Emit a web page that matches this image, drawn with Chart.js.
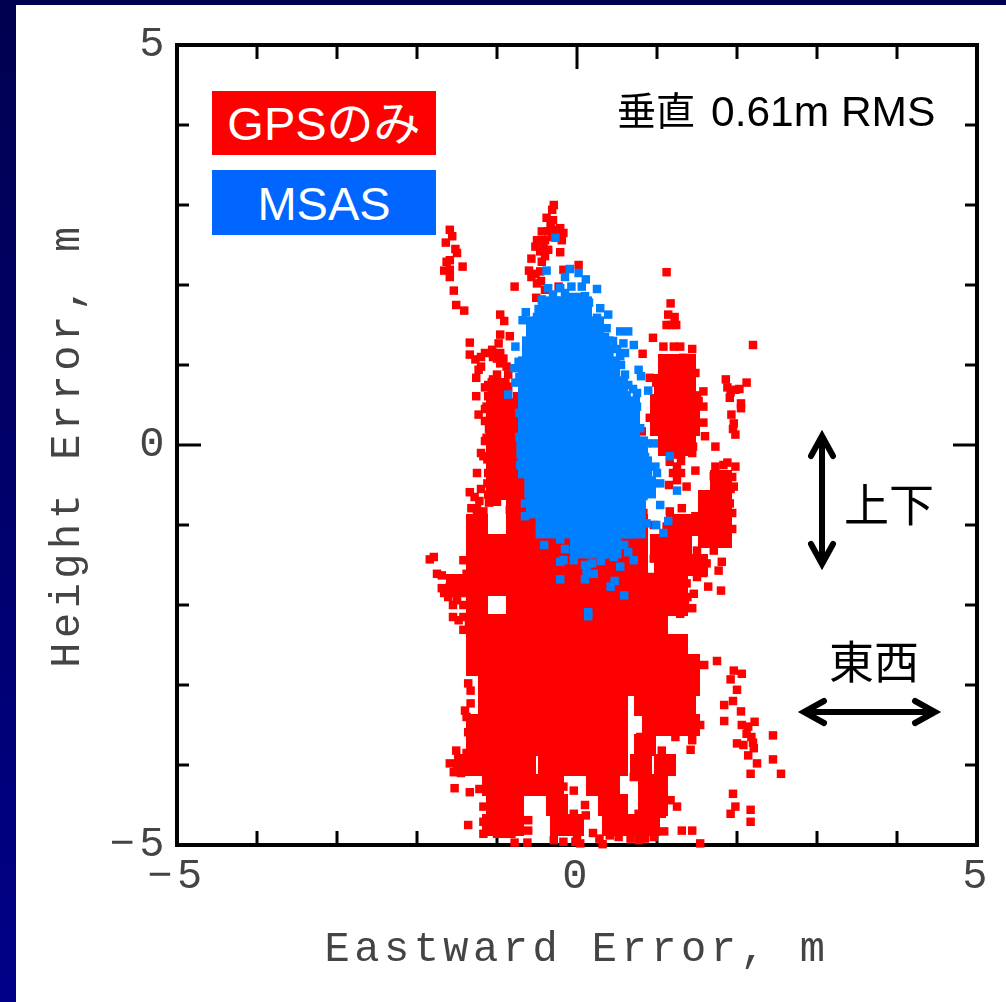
<!DOCTYPE html>
<html>
<head>
<meta charset="utf-8">
<title>GPS / MSAS</title>
<script src="https://cdn.jsdelivr.net/npm/chart.js@4"></script>
<style>
  html, body { margin: 0; padding: 0; width: 1006px; height: 1002px; overflow: hidden; }
  body { background: linear-gradient(#000050, #000088); position: relative; }
  #panel { position: absolute; left: 16px; top: 5px; width: 990px; height: 997px; background: #fff; }
  canvas { position: absolute; left: 0; top: 0; }
  .note { position: absolute; white-space: nowrap; color: #000; font-family: "Liberation Sans", "Noto Sans CJK JP", sans-serif; }
  .key { position: absolute; left: 212px; width: 224px; color: #fff; text-align: center; font-family: "Liberation Sans", "Noto Sans CJK JP", sans-serif; font-size: 47px; }
  svg { position: absolute; left: 0; top: 0; }
</style>
</head>
<body>
<div id="panel"></div>
<canvas id="scatterChart" width="1006" height="1002"></canvas>
<div class="key" style="top:91px;height:64px;line-height:66px;background:#ff0000">GPSのみ</div>
<div class="key" style="top:170px;height:65px;line-height:68px;background:#0066ff">MSAS</div>
<div class="note" style="left:617px;top:88px;font-size:39px;line-height:48px">垂直</div>
<div class="note" style="left:711px;top:88px;font-size:42.5px;line-height:48px">0.61m RMS</div>
<div class="note" style="left:844px;top:482px;font-size:45px;line-height:50px">上下</div>
<div class="note" style="left:829px;top:639px;font-size:45px;line-height:50px">東西</div>
<svg width="1006" height="1002" fill="none" stroke="#000" stroke-width="6" stroke-linecap="round" stroke-linejoin="miter">
  <path d="M822 436V564M811 456L822 436L833 456M811 544L822 564L833 544"/>
  <path d="M804 712H935M824 701L804 712L824 723M915 701L935 712L915 723"/>
</svg>
<script>
const xTickLabels = [-5, 0, 5]
const yTickLabels = [-5, 0, 5]
const xTitle = 'Eastward Error, m'
const yTitle = 'Height Error, m'

// solid part of the GPS cloud, one row per height: [y, [x, x, ...]]
const gpsCore = [
  [-1.0, [-1.25, -0.75, -0.5, -0.25, 0, 0.25, 0.5, 0.75, 1.25, 1.4]],
  [-1.25, [-1.25, -1, -0.75, -0.5, -0.25, 0, 0.25, 0.5, 0.75, 1.05, 1.3]],
  [-1.5, [-1.25, -1, -0.75, -0.5, -0.25, 0, 0.25, 0.5, 0.75, 1.1, 1.25, 1.5]],
  [-1.75, [-1.5, -1.25, -1, -0.75, -0.5, -0.25, 0, 0.25, 0.5, 0.75, 1, 1.25]],
  [-2, [-1.25, -0.75, -0.5, -0.25, 0, 0.25, 0.5, 0.75, 1, 1.25]],
  [-2.25, [-1.25, -1, -0.75, -0.5, -0.25, 0, 0.25, 0.5, 0.75, 1]],
  [-2.5, [-1.25, -1, -0.75, -0.5, -0.25, 0, 0.25, 0.5, 0.75, 1, 1.25]],
  [-2.75, [-1.25, -1, -0.75, -0.5, -0.25, 0, 0.25, 0.5, 0.75, 1, 1.25, 1.4]],
  [-3, [-1.1, -0.95, -0.75, -0.5, -0.25, 0, 0.25, 0.5, 0.75, 1, 1.25, 1.4]],
  [-3.25, [-1.1, -0.95, -0.75, -0.5, -0.25, 0, 0.25, 0.5, 0.85, 1.1, 1.35]],
  [-3.5, [-1.25, -1, -0.75, -0.5, -0.25, 0, 0.25, 0.5, 0.95, 1.2, 1.4]],
  [-3.75, [-1.25, -1, -0.75, -0.5, -0.25, 0, 0.25, 0.5, 0.85]],
  [-4, [-1.4, -1.15, -0.9, -0.65, -0.35, -0.15, 0.05, 0.25, 0.5, 0.8, 1.1]],
  [-4.25, [-1.05, -0.8, -0.55, -0.3, 0.25, 0.4, 0.9, 1.0]],
  [-4.5, [-1, -0.8, -0.25, 0.4, 0.5, 0.9, 1.0]],
  [-4.75, [-1.05, -0.8, -0.2, -0.05, 0.45, 0.7, 0.9]],
  [0.7, [-0.98]],
  [0.45, [-1, -0.75]],
  [0.2, [-1, -0.75]],
  [-0.05, [-1, -0.75]],
  [-0.3, [-1, -0.75]],
  [-0.55, [-1, -0.75]],
  [-0.8, [-0.75]],
  [1.0, [1.15, 1.35]],
  [0.75, [1.1, 1.35]],
  [0.5, [1.05, 1.25, 1.4]],
  [0.25, [1.05, 1.25, 1.4]],
  [0, [1.15, 1.35]],
  [-0.45, [1.8]],
  [-0.7, [1.65, 1.8]],
  [-0.95, [1.65, 1.8]],
  [-1.15, [1.65, 1.8]]
]

// single GPS fixes around the edges: [x, y]
const gpsScatter = [
  [-1.59, 2.69], [-1.56, 2.61], [-1.64, 2.53], [-1.52, 2.45], [-1.5, 2.4], [-1.59, 2.31], [-1.63, 2.29], [-1.66, 2.18], [-1.59, 2.19], [-1.59, 2.1],
  [-1.43, 2.23], [-1.54, 1.93], [-1.51, 1.75], [-1.41, 1.68],
  [-0.29, 3.0], [-0.31, 2.94], [-0.38, 2.84], [-0.3, 2.81], [-0.21, 2.71], [-0.17, 2.65], [-0.44, 2.67], [-0.36, 2.67], [-0.27, 2.69], [-0.5, 2.56],
  [-0.4, 2.56], [-0.19, 2.56], [-0.36, 2.44], [-0.46, 2.42], [-0.21, 2.41], [-0.57, 2.33], [-0.44, 2.29], [-0.6, 2.18], [-0.46, 2.17], [-0.57, 2.1],
  [-0.5, 2.02], [-0.78, 1.98], [-0.51, 1.84], [-0.4, 1.94], [-0.17, 2.19], [0.02, 2.25], [-0.23, 1.98], [-0.33, 2.75], [-0.24, 2.6], [-0.31, 2.6],
  [-0.42, 2.48], [-0.52, 2.48], [-0.4, 2.36], [-0.52, 2.14], [-0.45, 2.05],
  [-0.96, 1.63], [-0.91, 1.55], [-1.34, 1.28], [-0.96, 1.38], [-0.84, 1.36], [-0.98, 1.27], [-1.06, 1.19], [-1.34, 1.13], [-1.15, 1.15], [-0.96, 1.15],
  [-1.27, 1.07], [-0.96, 1.02], [-0.88, 0.98], [-1.23, 0.94], [-1.26, 0.84], [-1, 0.88], [-0.86, 0.88], [-1.11, 0.75], [-1.26, 0.61], [-0.96, 0.73],
  [-0.86, 0.73], [-0.75, 0.61], [-1.11, 0.61], [-1.23, 0.38], [-1.13, 0.48], [-0.8, 0.52], [-0.8, 0.36], [-1.13, 0.09], [-1.17, -0.14], [-1.07, -0.04],
  [-0.8, 0.19], [-0.71, -0.1], [-1.25, -0.35], [-1.11, -0.35], [-0.96, -0.31], [-1.34, -0.59], [-1.11, -0.62], [-1.32, -0.79], [-1.17, -0.83], [-1.25, -0.94],
  [-1, -0.56], [-0.75, -0.56], [-0.84, -0.81], [-0.73, -0.94], [-1, -0.71], [-0.63, -0.73], [-0.52, -0.98],
  [-1.05, 0.55], [-1.15, 0.45], [-1.1, 0.3], [-1.15, 0.3], [-1.1, 0.2], [-1.15, 0.05], [-1.2, -0.1], [-1.12, -0.18], [-1.08, -0.12], [-1.12, -0.48],
  [-1.2, -0.55], [-1.28, -0.65], [-1.1, -0.72], [-1.22, -0.7], [-1.25, -0.8], [-1.25, -0.87], [-1.18, -0.92], [-1.05, -0.3], [-1.05, 1.1], [-1.0, 1.08],
  [-0.92, 1.08], [-1.2, 0.98], [-1.05, 0.82], [-1.15, 0.72], [-1.2, 1.1],
  [1.12, 2.16], [1.17, 1.77], [1.14, 1.63], [1.18, 1.5], [0.95, 1.34], [0.82, 1.14], [2.2, 1.25], [1.08, 1.23], [1.21, 1.23], [1.29, 1.23],
  [1.44, 1.2], [1.33, 1.09], [1.16, 1.02], [1.42, 1.02], [1.08, 0.9], [0.91, 0.84], [0.99, 0.78], [1.58, 0.67], [1.48, 0.9], [1.08, 0.69],
  [1.58, 0.48], [1.02, 0.52], [0.91, 0.34], [1.58, 0.28], [1.02, 0.36], [0.81, 0.17], [1.6, 0.11], [1.73, -0.02], [1.45, 0.27], [1.45, -0.02],
  [1.12, -0.06], [1.44, -0.1], [1.16, -0.21], [1.25, -0.27], [1.25, -0.44], [1.37, -0.52], [1.48, -0.32], [1.31, -0.79], [1.16, -0.83], [1.48, -0.89],
  [1.21, -0.92], [0.83, -0.85], [0.75, -0.81], [0.81, -0.94], [0.96, -1], [1.12, -1.02], [1.22, 1.6], [1.24, 1.5], [1.12, 1.5], [1.5, 0.62], [1.52, 0.55],
  [1.3, -0.12], [1.2, -0.12], [1.3, -0.2], [1.3, -0.35], [1.2, -0.35], [1.15, -0.5],
  [1.86, 0.82], [2.12, 0.78], [1.98, 0.69], [1.91, 0.59], [2.05, 0.52], [2.05, 0.46], [1.93, 0.38], [1.96, 0.27], [1.98, 0.13], [1.98, -0.27],
  [1.83, -0.25], [1.73, -0.27], [1.71, -0.39], [1.96, -0.52], [1.63, -0.71], [1.91, -0.73], [2.03, 0.7], [1.92, 0.66], [1.88, 0.72], [1.95, 0.2],
  [1.88, -0.22], [1.94, -0.4], [1.92, -0.55], [1.94, -0.85], [1.94, -1.05],
  [-1.79, -1.4], [-1.84, -1.43], [-1.75, -1.61], [-1.69, -1.63], [-1.69, -1.79], [-1.59, -1.77], [-1.5, -1.73], [-1.61, -1.9], [-1.5, -1.94], [-1.42, -1.44],
  [-1.38, -1.61], [-1.55, -2.15], [-1.48, -2.19], [-1.42, -2.31], [-1.36, -2.98], [-1.33, -3.07], [-1.33, -3.23], [-1.4, -3.32], [-1.38, -3.4], [-1.36, -3.59],
  [-1.51, -3.82], [-1.54, -4.09], [-1.53, -4.29], [-1.34, -4.34], [-1.36, -4.75], [-1.17, -4.52], [-1.17, -4.71], [-1.17, -4.86], [-0.78, -4.97], [-0.62, -4.97],
  [-0.61, -4.69], [-0.61, -4.82], [-0.29, -4.94], [-0.17, -4.96], [-0.02, -4.96], [0.04, -4.98], [-0.25, -4.69], [-0.04, -4.61], [-0.04, -4.77], [0, -4.9],
  [0.1, -4.5], [0.11, -4.63], [0.32, -4.99], [0.41, -4.88], [0.67, -4.92], [0.77, -4.94], [0.96, -4.9], [1.09, -4.83], [1.31, -4.82], [1.44, -4.82],
  [1.54, -4.98], [1.25, -4.52], [1.17, -4.44], [1.06, -4.61], [1.06, -4.44], [0.94, -4.61], [0.77, -4.61], [1.04, -4.15], [1.06, -3.94], [1.06, -3.82],
  [0.71, -4.15], [1.44, -3.69], [1.42, -3.81], [1.23, -3.65], [0.79, -3.65], [0.79, -3.79], [0.54, -3.69], [0.92, -3.5], [1.35, -3.54], [1.54, -3.5],
  [-0.04, -4.32], [-0.17, -4.27], [-1.42, -1.85], [-1.55, -1.85], [-1.66, -1.85], [-1.55, -2.0], [-1.42, -2.0], [-1.42, -2.15], [-1.35, -2.25], [-1.42, -1.7],
  [-1.45, -4.1], [-1.38, -3.85], [-1.3, -3.9], [-1.5, -4.02], [-1.22, -4.3], [-1.12, -4.3], [-1.44, -3.98], [-1.0, -4.86], [-0.9, -4.86], [-0.82, -4.86],
  [-1.59, -3.98], [0.2, -4.85], [0.28, -4.92], [0.52, -4.9], [0.85, -4.92],
  [1.59, -2.75], [1.75, -2.7], [1.96, -2.82], [2.06, -2.86], [1.92, -2.93], [2, -3.06], [1.95, -3.2], [1.84, -3.25], [2.05, -3.33], [1.84, -3.45],
  [2.22, -3.46], [2.06, -3.5], [2.14, -3.52], [2.12, -3.61], [2.45, -3.63], [2, -3.73], [2.08, -3.75], [2.21, -3.79], [2.14, -3.88], [2.25, -3.98],
  [2.45, -3.93], [2.17, -4.11], [2.55, -4.11], [1.95, -4.36], [1.98, -4.52], [1.92, -4.61], [2.17, -4.56], [2.17, -4.71], [2.18, -3.65], [2.2, -3.72],
  [1.8, -1.82], [1.64, -1.77], [1.44, -2.04], [1.29, -2.11], [1.46, -1.86], [1.37, -1.73], [1.77, -1.57], [1.81, -1.46], [1.71, -1.32], [1.5, -1.65],
  [1.62, -1.48], [1.83, -1.23], [1.5, -1.32], [1.37, -1.19], [1.58, -1.07], [1.79, -1.04], [1.21, -1.32], [1.04, -1.27], [0.96, -1.42], [1.04, -1.42],
  [1.29, -1.52], [0.96, -1.73], [1.12, -1.65], [0.79, -1.19], [1.29, -1.15], [0.91, -1.65], [1.42, -1.55], [1.58, -1.6], [1.45, -1.45], [1.38, -1.9], [1.35, -2.0]
]

// solid part of the MSAS cloud
const msasCore = [
  [1.72, [-0.35, -0.2, -0.05, 0.05]],
  [1.47, [-0.5, -0.25, 0, 0.2]],
  [1.22, [-0.55, -0.3, -0.05, 0.2, 0.32]],
  [0.97, [-0.6, -0.35, -0.1, 0.15, 0.4]],
  [0.72, [-0.6, -0.35, -0.1, 0.15, 0.4, 0.5]],
  [0.47, [-0.6, -0.35, -0.1, 0.15, 0.4, 0.65]],
  [0.22, [-0.6, -0.35, -0.1, 0.15, 0.4, 0.65]],
  [-0.03, [-0.62, -0.35, -0.1, 0.15, 0.4, 0.65, 0.75]],
  [-0.28, [-0.6, -0.35, -0.1, 0.15, 0.4, 0.65, 0.8]],
  [-0.53, [-0.52, -0.25, 0, 0.25, 0.5, 0.75, 0.85]],
  [-0.78, [-0.5, -0.25, 0, 0.25, 0.5, 0.72]],
  [-1.03, [-0.38, -0.15, 0.1, 0.35, 0.6, 0.72]],
  [-1.28, [0.05, 0.25, 0.42]]
]

const msasScatter = [
  [-0.27, 2.59], [-0.38, 2.18], [-0.09, 2.2], [-0.15, 2.1], [0.02, 2.15], [0.11, 2.07], [0.06, 1.98], [-0.07, 1.98], [0.25, 1.95], [-0.21, 1.96],
  [-0.36, 1.96], [0.1, 1.86], [-0.44, 1.82], [0.29, 1.71], [0.39, 1.63], [0.25, 1.59], [0.37, 1.46], [-0.64, 1.66], [-0.68, 1.56], [-0.57, 1.48],
  [0.54, 1.42], [0.64, 1.42], [0.71, 1.25], [0.58, 1.27], [-0.77, 1.23], [0.54, 1.11], [-0.73, 1.04], [-0.78, 0.96], [0.77, 0.94], [0.8, 0.86],
  [0.64, 0.75], [0.89, 0.68], [0.75, 0.65], [0.75, 0.48], [-0.86, 0.63], [-0.77, 0.78], [0.79, 0.21], [0.96, 0.02], [0.87, 0.02], [1.16, -0.14],
  [0.98, -0.27], [1, -0.35], [0.87, -0.35], [1.04, -0.48], [0.93, -0.52], [1.25, -0.57], [0.83, -0.64], [1.04, -0.75], [0.81, -0.75], [0.87, -0.98],
  [1.14, -0.95], [0.99, -1], [-0.71, -0.25], [-0.65, -0.73], [-0.65, -0.89], [1.08, -1.1], [-0.41, -1.25], [-0.21, -1.18], [-0.21, -1.46], [-0.21, -1.68],
  [0.1, -1.68], [0.21, -1.61], [0.42, -1.77], [0.47, -1.7], [0.59, -1.88], [0.14, -2.09], [0.14, -2.14], [0.71, -1.44], [0.64, -1.34], [0.54, -1.52],
  [0.59, -1.25], [-0.04, -1.44], [-0.17, -1.44], [0.19, -1.48], [0.46, -1.4], [0.04, -1.3], [0.21, -1.36], [0.37, -1.36],
  [-0.3, 1.88], [-0.15, 1.9], [-0.05, 1.85], [0.05, 1.85], [0.15, 1.78], [-0.48, 1.7], [-0.5, 1.6], [0.28, 1.45], [0.35, 1.35], [0.45, 1.3],
  [0.5, 1.2], [0.6, 1.15], [0.55, 1.0], [0.6, 0.88], [0.7, 0.7], [0.62, 0.62], [-0.72, 0.85], [-0.72, 0.4], [-0.72, 0.1], [0.85, -0.15],
  [0.9, -0.45], [-0.15, -1.3], [0.1, -1.5], [0.3, -1.45], [0.12, -1.58]
]

const rowsToPoints = rows => rows.flatMap(([y, xs]) => xs.map(x => ({ x, y })))
const pairsToPoints = pairs => pairs.map(([x, y]) => ({ x, y }))

// frame and inward ticks on all four sides, longer at zero
const frameTicks = {
  id: 'frameTicks',
  beforeDraw(chart) {
    // stretched typewriter look of the axis text
    chart.ctx.letterSpacing = '4.5px'
  },
  beforeDatasetsDraw(chart) {
    const { ctx, chartArea: a, scales } = chart
    ctx.save()
    ctx.strokeStyle = '#000'
    ctx.lineWidth = 3
    ctx.beginPath()
    scales.x.ticks.forEach(t => {
      const px = scales.x.getPixelForValue(t.value)
      const len = t.value === 0 ? 24 : 14
      ctx.moveTo(px, a.top); ctx.lineTo(px, a.top + len)
      ctx.moveTo(px, a.bottom); ctx.lineTo(px, a.bottom - len)
    })
    scales.y.ticks.forEach(t => {
      const py = scales.y.getPixelForValue(t.value)
      const len = t.value === 0 ? 24 : 12
      ctx.moveTo(a.left, py); ctx.lineTo(a.left + len, py)
      ctx.moveTo(a.right, py); ctx.lineTo(a.right - len, py)
    })
    ctx.stroke()
    ctx.lineWidth = 4
    ctx.strokeRect(a.left, a.top, a.right - a.left, a.bottom - a.top)
    ctx.restore()
  }
}

const axisFont = { family: "'Liberation Mono', monospace", size: 42 }
const tickFormat = list => value => list.includes(value) ? String(value).replace('-', '\u2212') : ''

new Chart(document.querySelector('#scatterChart'), {
  type: 'scatter',
  data: {
    datasets: [
      { label: 'MSAS', data: pairsToPoints(msasScatter), pointStyle: 'rect', pointRadius: 6, pointBorderWidth: 0, backgroundColor: '#0080ff', clip: false },
      { label: 'MSAS', data: rowsToPoints(msasCore), pointStyle: 'rect', pointRadius: 15.6, pointBorderWidth: 0, backgroundColor: '#0080ff', clip: false },
      { label: 'GPS', data: pairsToPoints(gpsScatter), pointStyle: 'rect', pointRadius: 6, pointBorderWidth: 0, backgroundColor: '#ff0000', clip: false },
      { label: 'GPS', data: rowsToPoints(gpsCore), pointStyle: 'rect', pointRadius: 15.6, pointBorderWidth: 0, backgroundColor: '#ff0000', clip: false }
    ]
  },
  options: {
    responsive: false,
    animation: false,
    layout: { padding: { top: 45, right: 29, bottom: 0, left: 0 } },
    plugins: { legend: { display: false }, tooltip: { enabled: false } },
    scales: {
      x: {
        min: -5,
        max: 5,
        afterFit: scale => { scale.height = 157 },
        grid: { display: false, drawTicks: false },
        border: { display: false },
        ticks: { stepSize: 1, autoSkip: false, maxRotation: 0, minRotation: 0, padding: 7, color: '#444', font: axisFont, callback: tickFormat(xTickLabels) },
        title: { display: true, text: xTitle, color: '#444', font: axisFont, padding: { top: 0, bottom: 27 } }
      },
      y: {
        min: -5,
        max: 5,
        afterFit: scale => { scale.width = 177 },
        grid: { display: false, drawTicks: false },
        border: { display: false },
        ticks: { stepSize: 1, autoSkip: false, padding: 8, color: '#444', font: axisFont, callback: tickFormat(yTickLabels) },
        title: { display: true, text: yTitle, color: '#444', font: axisFont, padding: { top: 43, bottom: 0 } }
      }
    }
  },
  plugins: [frameTicks]
})
</script>
</body>
</html>
